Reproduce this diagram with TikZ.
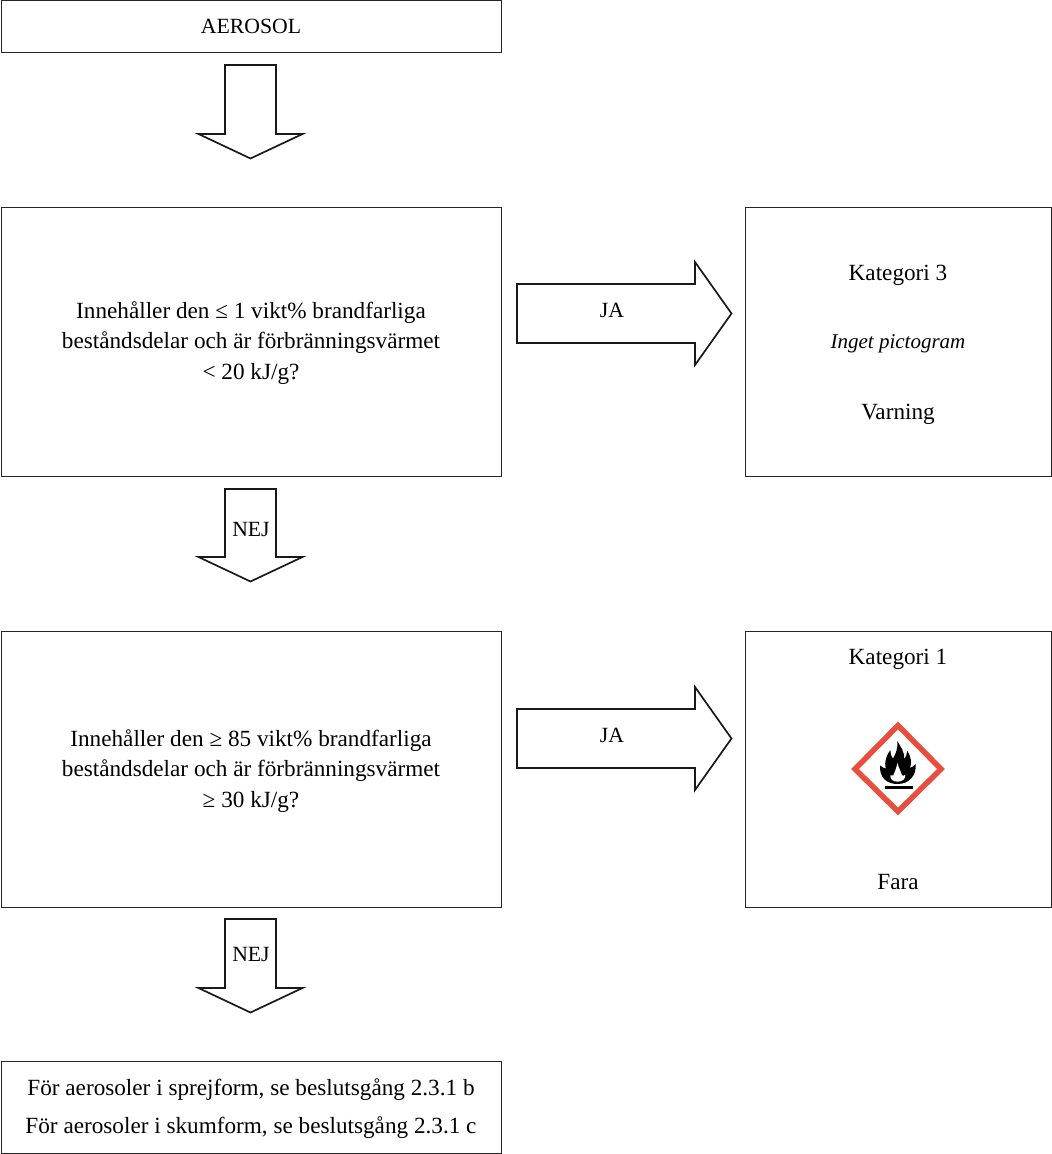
\documentclass[tikz,border=0pt]{standalone}
\usepackage{fontspec}
\setmainfont{Liberation Serif}
\usetikzlibrary{calc}
\definecolor{ghsred}{RGB}{232,78,62}
\tikzstyle{box}=[draw,line width=0.9pt,black!85,inner sep=0pt]
\tikzstyle{block}=[line width=1.7pt,line join=miter,black!90]
\tikzstyle{label}=[inner sep=0pt,align=center,text=black,font=\fontsize{23.2}{30.5}\selectfont]
\tikzstyle{small}=[font=\fontsize{21.7}{30}\selectfont]
% hollow arrow pointing down, from its top centre
\newcommand\downblock[2]{{
  \draw[block] ($(#1)+(-25.5,0)$) -- ($(#1)+(25.5,0)$) -- ($(#1)+(25.5,#2)$)
    -- ($(#1)+(52,#2)$) -- ($(#1)+(0,#2+24.5)$) -- ($(#1)+(-52,#2)$)
    -- ($(#1)+(-25.5,#2)$) -- cycle;
}}
% hollow arrow pointing right, from its tail centre
\newcommand\rightblock[1]{{
  \draw[block] ($(#1)+(0,-29.5)$) -- ($(#1)+(178,-29.5)$) -- ($(#1)+(178,-51.5)$)
    -- ($(#1)+(214.5,0)$) -- ($(#1)+(178,51.5)$) -- ($(#1)+(178,29.5)$)
    -- ($(#1)+(0,29.5)$) -- cycle;
}}
\begin{document}
\begin{tikzpicture}[x=1pt,y=-1pt]
  \useasboundingbox (0,0) rectangle (1052,1154);

  % BOXES
  \node[box,minimum width=500pt,minimum height=52pt] (aerosol) at (251,26) {};
  \node[box,minimum width=500pt,minimum height=269pt] (q1) at (251,341.5) {};
  \node[box,minimum width=306pt,minimum height=269pt] (cat3) at (898,341.5) {};
  \node[box,minimum width=500pt,minimum height=276pt] (q2) at (251,769) {};
  \node[box,minimum width=306pt,minimum height=276pt] (cat1) at (898,769) {};
  \node[box,minimum width=500pt,minimum height=92pt] (end) at (251,1107) {};

  \node[label,small] (aerosoltxt) at (aerosol) {AEROSOL};
  \node[label,yshift=-1.5pt] (q1txt) at (q1)
    {Innehåller den ≤ 1 vikt\% brandfarliga\\beståndsdelar och är förbränningsvärmet\\< 20 kJ/g?};
  \node[label,yshift=-2pt] (q2txt) at (q2)
    {Innehåller den ≥ 85 vikt\% brandfarliga\\beståndsdelar och är förbränningsvärmet\\≥ 30 kJ/g?};
  \node[label,yshift=-2pt] (endtxt) at (end)
    {För aerosoler i sprejform, se beslutsgång 2.3.1 b\\[7.5pt]För aerosoler i skumform, se beslutsgång 2.3.1 c};

  % ARROWS
  \coordinate (d1) at (250.5,65);
  \coordinate (d2) at (250.5,489);
  \coordinate (d3) at (250.5,919);
  \coordinate (r1) at (517,313.5);
  \coordinate (r2) at (517,738.5);
  \downblock{d1}{69}
  \downblock{d2}{68}
  \downblock{d3}{69}
  \rightblock{r1}
  \rightblock{r2}
  \node[label,small] (nej1) at (251,529) {NEJ};
  \node[label,small] (nej2) at (251,954) {NEJ};
  \node[label,small] (ja1) at (612,310) {JA};
  \node[label,small] (ja2) at (612,735) {JA};

  % CATEGORIES
  \node[label] (k3) at (898,275) {Kategori 3};
  \node[label,font=\fontsize{21}{30}\selectfont\itshape] (pict) at (898,344) {Inget pictogram};
  \node[label] (varn) at (898,414) {Varning};
  \node[label] (k1) at (898,659) {Kategori 1};
  \node[label] (fara) at (898,882) {Fara};

  % GHS FLAME
  \draw[ghsred,line width=5.5pt,miter limit=10,fill=white]
    (898,725.5) -- (941,769) -- (898,811.5) -- (855,769) -- cycle;
  \begin{scope}[shift={(830,710)},x=0.3333pt,y=-0.3333pt]
    \fill[black] (203,222) .. controls (172,222) and (148,205) .. (150,166)
      .. controls (155,170) and (160,174) .. (167,176)
      .. controls (162,155) and (170,135) .. (181,120)
      .. controls (181,130) and (183,140) .. (189,146)
      .. controls (198,130) and (204,115) .. (202,93)
      .. controls (212,110) and (224,126) .. (223,148)
      .. controls (227,142) and (231,132) .. (232,122)
      .. controls (243,140) and (246,158) .. (240,174)
      .. controls (246,172) and (251,168) .. (257,162)
      .. controls (260,195) and (238,222) .. (203,222) -- cycle;
    \fill[white] (203,215) .. controls (190,215) and (180,209) .. (181,196)
      .. controls (184,198) and (187,198) .. (190,196)
      .. controls (195,184) and (200,172) .. (202,159)
      .. controls (206,172) and (212,184) .. (216,196)
      .. controls (219,198) and (222,197) .. (226,194)
      .. controls (228,207) and (216,215) .. (203,215) -- cycle;
    \fill[black] (164,228) rectangle (249,236);
  \end{scope}
\end{tikzpicture}
\end{document}
